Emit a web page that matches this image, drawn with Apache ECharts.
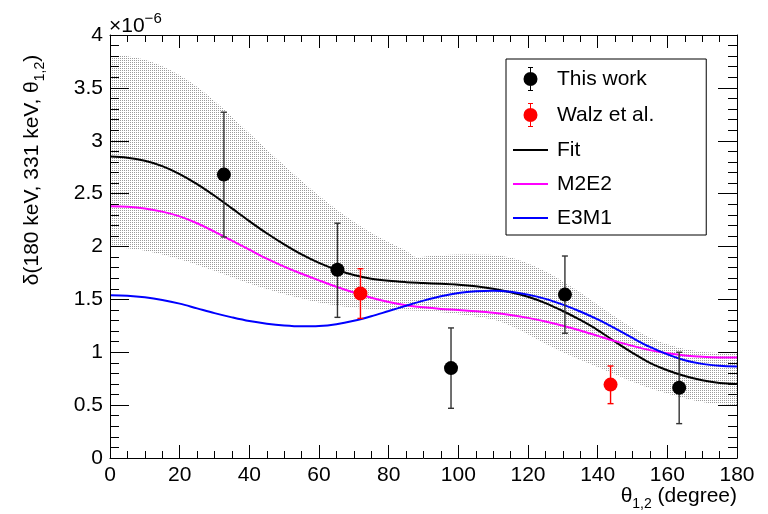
<!DOCTYPE html>
<html><head><meta charset="utf-8">
<script src="https://cdn.jsdelivr.net/npm/echarts@6/dist/echarts.min.js"></script>
<style>html,body{margin:0;padding:0;background:#fff}#c{width:768px;height:514px}</style>
</head><body><div id="c"></div>
<script>
// ---- data (values in units of 1e-6) ----
const thisWorkX = [32.7, 65.3, 97.9, 130.6, 163.4];
const thisWorkY = [2.68, 1.78, 0.85, 1.545, 0.665];
const thisWorkLow = [2.09, 1.33, 0.47, 1.18, 0.325];
const thisWorkHigh = [3.27, 2.22, 1.23, 1.91, 1.00];

const walzX = [71.9, 143.7];
const walzY = [1.556, 0.694];
const walzLow = [1.32, 0.514];
const walzHigh = [1.79, 0.87];

const curveX = [0, 5, 10, 15, 20, 25, 30, 35, 40, 45, 50, 55, 60, 65, 70, 75, 80, 85, 90,
                95, 100, 105, 110, 115, 120, 125, 130, 135, 140, 145, 150, 155, 160, 165, 170, 175, 180];
const fitY  = [2.85, 2.84, 2.81, 2.76, 2.685, 2.59, 2.48, 2.36, 2.24, 2.125, 2.02, 1.925, 1.845, 1.78, 1.73, 1.695, 1.675, 1.663, 1.655,
               1.647, 1.638, 1.623, 1.60, 1.568, 1.525, 1.465, 1.39, 1.305, 1.21, 1.10, 0.995, 0.90, 0.83, 0.775, 0.735, 0.71, 0.70];
const m2e2Y = [2.38, 2.375, 2.36, 2.33, 2.285, 2.22, 2.14, 2.055, 1.97, 1.885, 1.81, 1.742, 1.68, 1.62, 1.565, 1.515, 1.475, 1.445, 1.425,
               1.41, 1.40, 1.388, 1.373, 1.352, 1.325, 1.29, 1.25, 1.205, 1.155, 1.105, 1.06, 1.02, 0.99, 0.97, 0.957, 0.951, 0.95];
const e3m1Y = [1.54, 1.535, 1.52, 1.495, 1.46, 1.415, 1.37, 1.33, 1.295, 1.27, 1.253, 1.245, 1.248, 1.265, 1.297, 1.34, 1.39, 1.44, 1.488,
               1.53, 1.56, 1.577, 1.582, 1.572, 1.545, 1.505, 1.45, 1.385, 1.31, 1.225, 1.135, 1.05, 0.98, 0.925, 0.89, 0.872, 0.865];

const bandUpperX = [0, 5, 10, 15, 20, 25, 30, 35, 40, 45, 50, 55, 60, 65, 70, 75, 80, 85, 88, 92, 100,
                    110, 115, 120, 125, 130, 135, 140, 145, 150, 155, 160, 165, 170, 175, 180];
const bandUpper  = [3.81, 3.80, 3.765, 3.705, 3.62, 3.51, 3.375, 3.225, 3.07, 2.915, 2.765, 2.62, 2.48, 2.35, 2.235, 2.13, 2.04, 1.96, 1.90, 1.91, 1.925,
                    1.92, 1.895, 1.84, 1.765, 1.67, 1.565, 1.45, 1.335, 1.23, 1.14, 1.075, 1.03, 1.005, 0.993, 0.99];
const bandLowerX = [0, 10, 20, 30, 40, 50, 60, 70, 80, 90, 100, 110, 115, 120, 125, 130, 135, 140, 145, 150, 155, 160, 165, 170, 175, 180];
const bandLower  = [2.00, 1.96, 1.88, 1.77, 1.65, 1.55, 1.47, 1.42, 1.40, 1.39, 1.36, 1.31, 1.25, 1.17, 1.08, 1.00, 0.93, 0.86, 0.79, 0.72, 0.66, 0.61, 0.565, 0.53, 0.51, 0.50];

const xMin = 0, xMax = 180, xStep = 20;
const yMin = 0, yMax = 4, yStep = 0.5;

// ---- helpers ----
const FONT = 'Liberation Sans, Arial, Helvetica, sans-serif';
const zip = (xs, ys) => xs.map((x, i) => [x, ys[i]]);
const errData = (xs, lo, hi) => xs.map((x, i) => [x, lo[i], hi[i]]);

const pc = document.createElement('canvas');
pc.width = 2; pc.height = 2;
const g = pc.getContext('2d');
g.fillStyle = '#ffffff'; g.fillRect(0, 0, 2, 2);
g.fillStyle = '#9a9a9a'; g.fillRect(0, 0, 1, 1);

function errRender(color, cap, lw) {
  return function (params, api) {
    const x = api.value(0), lo = api.value(1), hi = api.value(2);
    const a = api.coord([x, lo]), b = api.coord([x, hi]);
    const st = { stroke: color, lineWidth: lw };
    return { type: 'group', children: [
      { type: 'line', shape: { x1: a[0], y1: a[1], x2: b[0], y2: b[1] }, style: st },
      { type: 'line', shape: { x1: a[0] - cap, y1: a[1], x2: a[0] + cap, y2: a[1] }, style: st },
      { type: 'line', shape: { x1: b[0] - cap, y1: b[1], x2: b[0] + cap, y2: b[1] }, style: st }
    ]};
  };
}

const errIcon = 'path://M6.5,0h1v24h-1z M4.5,0h5v1h-5z M4.5,23h5v1h-5z M0,12a7,7 0 1,1 14,0a7,7 0 1,1 -14,0z';
const lineIcon = 'path://M0,0h35v2h-35z';

function xAxisCfg(pos, labels) {
  return {
    type: 'value', position: pos, min: xMin, max: xMax, interval: xStep, z: 10,
    axisLine: { show: true, onZero: false, lineStyle: { color: '#000', width: 1 } },
    axisTick: { show: true, inside: true, length: 13, lineStyle: { color: '#000', width: 1 } },
    minorTick: { show: true, splitNumber: 4, length: 7, lineStyle: { color: '#000', width: 1 } },
    axisLabel: { show: labels, color: '#000', fontSize: 21, fontFamily: FONT, margin: 7 },
    splitLine: { show: false }, minorSplitLine: { show: false }
  };
}
function yAxisCfg(pos, labels) {
  return {
    type: 'value', position: pos, min: yMin, max: yMax, interval: yStep, z: 10,
    axisLine: { show: true, onZero: false, lineStyle: { color: '#000', width: 1 } },
    axisTick: { show: true, inside: true, length: 19, lineStyle: { color: '#000', width: 1 } },
    minorTick: { show: true, splitNumber: 5, length: 9, lineStyle: { color: '#000', width: 1 } },
    axisLabel: { show: labels, color: '#000', fontSize: 21, fontFamily: FONT, margin: 7 },
    splitLine: { show: false }, minorSplitLine: { show: false }
  };
}

const lineSeries = (name, ys, color) => ({
  name, type: 'line', data: zip(curveX, ys), smooth: 0.35, symbol: 'none', showSymbol: false, z: 3,
  lineStyle: { color, width: 2 }, itemStyle: { color }
});

const chart = echarts.init(document.getElementById('c'), null, { renderer: 'canvas' });
chart.setOption({
  animation: false,
  backgroundColor: '#fff',
  grid: { left: 110, right: 31, top: 35, bottom: 56, containLabel: false, outerBoundsMode: 'none' },
  xAxis: [xAxisCfg('bottom', true), xAxisCfg('top', false)],
  yAxis: [yAxisCfg('left', true), yAxisCfg('right', false)],
  legend: {
    orient: 'vertical', left: 506, top: 59,
    padding: [8, 52, 6, 7],
    itemWidth: 35, itemHeight: 24, itemGap: 12,
    borderColor: '#000', borderWidth: 1, backgroundColor: '#fff',
    textStyle: { color: '#000', fontSize: 21, fontFamily: FONT, lineHeight: 22, padding: [0, 0, 0, 4] },
    data: [
      { name: 'This work', icon: errIcon },
      { name: 'Walz et al.', icon: errIcon },
      { name: 'Fit', icon: lineIcon },
      { name: 'M2E2', icon: lineIcon },
      { name: 'E3M1', icon: lineIcon }
    ]
  },
  graphic: [
    { type: 'text', x: 32, y: 170, rotation: Math.PI / 2, style: {
        text: '{a|δ(180 keV, 331 keV, θ}{s|1,2}{a|)}', align: 'center', verticalAlign: 'middle', fill: '#000',
        rich: { a: { fontSize: 21, fontFamily: FONT, lineHeight: 30, fill: '#000' },
                s: { fontSize: 14, fontFamily: FONT, lineHeight: 14, verticalAlign: 'bottom', fill: '#000' } } } },
    { type: 'text', x: 737, y: 496, style: {
        text: '{a|θ}{s|1,2}{a| (degree)}', align: 'right', verticalAlign: 'middle', fill: '#000',
        rich: { a: { fontSize: 21, fontFamily: FONT, lineHeight: 30, fill: '#000' },
                s: { fontSize: 14, fontFamily: FONT, lineHeight: 14, verticalAlign: 'bottom', fill: '#000' } } } },
    { type: 'text', x: 109, y: 26, style: {
        text: '{a|×10}{p|−6}', align: 'left', verticalAlign: 'middle', fill: '#000',
        rich: { a: { fontSize: 21, fontFamily: FONT, lineHeight: 30, fill: '#000' },
                p: { fontSize: 15, fontFamily: FONT, lineHeight: 15, verticalAlign: 'top', fill: '#000' } } } }
  ],
  series: [
    { name: 'bandUpper', type: 'line', data: zip(bandUpperX, bandUpper), smooth: 0.3, symbol: 'none', z: 1, silent: true,
      lineStyle: { width: 0, opacity: 0 }, areaStyle: { color: { image: pc, repeat: 'repeat' }, opacity: 1, origin: 'start' } },
    { name: 'bandLower', type: 'line', data: zip(bandLowerX, bandLower), smooth: 0.3, symbol: 'none', z: 1, silent: true,
      lineStyle: { width: 0, opacity: 0 }, areaStyle: { color: '#ffffff', opacity: 1, origin: 'start' } },
    lineSeries('Fit', fitY, '#000000'),
    lineSeries('M2E2', m2e2Y, '#ff00ff'),
    lineSeries('E3M1', e3m1Y, '#0000ff'),
    { name: 'thisWorkErr', type: 'custom', data: errData(thisWorkX, thisWorkLow, thisWorkHigh), z: 4, silent: true,
      encode: { x: 0, y: [1, 2] }, renderItem: errRender('#333333', 3, 1.4) },
    { name: 'walzErr', type: 'custom', data: errData(walzX, walzLow, walzHigh), z: 4, silent: true,
      encode: { x: 0, y: [1, 2] }, renderItem: errRender('#ff0000', 3, 1.4) },
    { name: 'This work', type: 'scatter', data: zip(thisWorkX, thisWorkY), symbol: 'circle', symbolSize: 14, z: 5,
      itemStyle: { color: '#000000', opacity: 1 } },
    { name: 'Walz et al.', type: 'scatter', data: zip(walzX, walzY), symbol: 'circle', symbolSize: 14, z: 5,
      itemStyle: { color: '#ff0000', opacity: 1 } }
  ]
});
</script>
</body></html>
